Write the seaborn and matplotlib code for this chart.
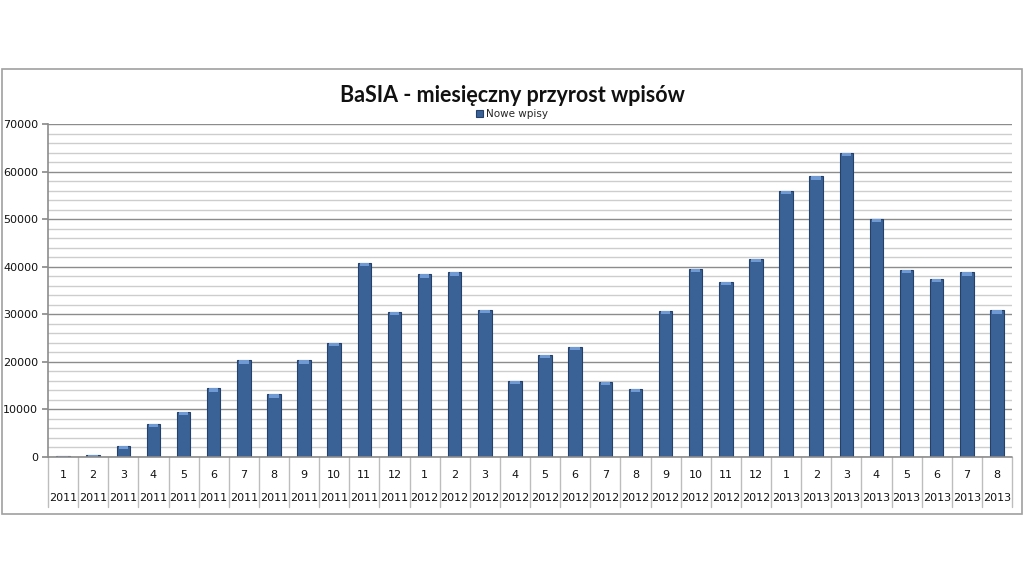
import matplotlib
matplotlib.use('Agg')
import matplotlib.pyplot as plt
import matplotlib.transforms as mtransforms
from matplotlib.patches import Rectangle
import seaborn as sns
import pandas as pd

months = [1, 2, 3, 4, 5, 6, 7, 8, 9, 10, 11, 12,
          1, 2, 3, 4, 5, 6, 7, 8, 9, 10, 11, 12,
          1, 2, 3, 4, 5, 6, 7, 8]
years = [2011] * 12 + [2012] * 12 + [2013] * 8
nowe_wpisy = [200, 400, 2300, 7000, 9500, 14400, 20300, 13200, 20300, 24000, 40800, 30500,
              38400, 38800, 31000, 16000, 21500, 23200, 15800, 14300, 30700, 39600, 36800, 41700,
              55900, 59000, 64000, 50100, 39400, 37400, 38800, 30800]

df = pd.DataFrame({'month': months, 'year': years, 'Nowe wpisy': nowe_wpisy})
df['label'] = [f'{m}/{y}' for m, y in zip(months, years)]

sns.set_theme(style='white')
plt.rcParams['font.family'] = ['DejaVu Sans']

fig = plt.figure(figsize=(10.24, 5.76), dpi=100)
ax = fig.add_axes([48 / 1024, 119 / 576, 964 / 1024, 333 / 576])

bar_color = '#3b6296'
sns.barplot(data=df, x='label', y='Nowe wpisy', color=bar_color, width=0.45,
            saturation=1, edgecolor='#24406b', linewidth=0.8, ax=ax, label='Nowe wpisy',
            zorder=3)
handles, labels = ax.get_legend_handles_labels()
if ax.get_legend() is not None:
    ax.get_legend().remove()

# lighter caps on top of the columns, like the excel 3D look
for p in ax.patches:
    x0 = p.get_x()
    w = p.get_width()
    h = p.get_height()
    ax.add_patch(Rectangle((x0 + w * 0.15, h - 700), w * 0.7, 700, color='#6f9ad3',
                           zorder=4, lw=0))

ax.set_xlim(-0.5, len(df) - 0.5)
ax.set_ylim(0, 70000)
ax.set_yticks(range(0, 70001, 10000))
ax.set_yticks(range(0, 70001, 2000), minor=True)
ax.grid(axis='y', which='minor', color='#cdcdcd', lw=1.0, zorder=0)
ax.grid(axis='y', which='major', color='#8c8c8c', lw=1.0, zorder=0)
ax.set_axisbelow(True)
ax.tick_params(axis='y', which='major', length=4, color='#8c8c8c', labelsize=8,
               labelcolor='#111111', pad=3, left=True)
ax.tick_params(axis='y', which='minor', length=0)
ax.set_xticks([])
ax.set_xlabel('')
ax.set_ylabel('')
for s in ['top', 'right', 'bottom']:
    ax.spines[s].set_visible(False)
ax.spines['left'].set_color('#8c8c8c')
ax.spines['left'].set_linewidth(1.2)

# category table below the axis
trans = mtransforms.blended_transform_factory(ax.transData, ax.transAxes)
tbl_bottom = -50 / 333
ax.plot([-0.5, len(df) - 0.5], [0, 0], transform=trans, color='#8c8c8c', lw=1.2,
        clip_on=False, zorder=5)
for i in range(len(df) + 1):
    ax.plot([i - 0.5, i - 0.5], [0, tbl_bottom], transform=trans, color='#bdbdbd',
            lw=1.0, clip_on=False)
for i, (m, y) in enumerate(zip(df['month'], df['year'])):
    ax.text(i, -18 / 333, str(m), transform=trans, ha='center', va='center',
            fontsize=8, color='#111111')
    ax.text(i, -41 / 333, str(y), transform=trans, ha='center', va='center',
            fontsize=8, color='#111111')

fig.text(0.5, 1 - 96 / 576, 'BaSIA - miesięczny przyrost wpisów', ha='center', va='center',
         fontsize=15.5, fontweight='bold', family=['Lato', 'DejaVu Sans'], color='#111111')
fig.legend(handles, labels, loc='center', bbox_to_anchor=(0.5, 1 - 114 / 576), frameon=False,
           fontsize=7.5, handlelength=0.7, handleheight=0.7, handletextpad=0.3, borderpad=0)

fig.patches.append(Rectangle((2 / 1024, 1 - 514 / 576), 1020 / 1024, 445 / 576,
                             transform=fig.transFigure, fill=False, edgecolor='#a0a0a0',
                             lw=1.2))

fig.savefig('out.png', dpi=100)
